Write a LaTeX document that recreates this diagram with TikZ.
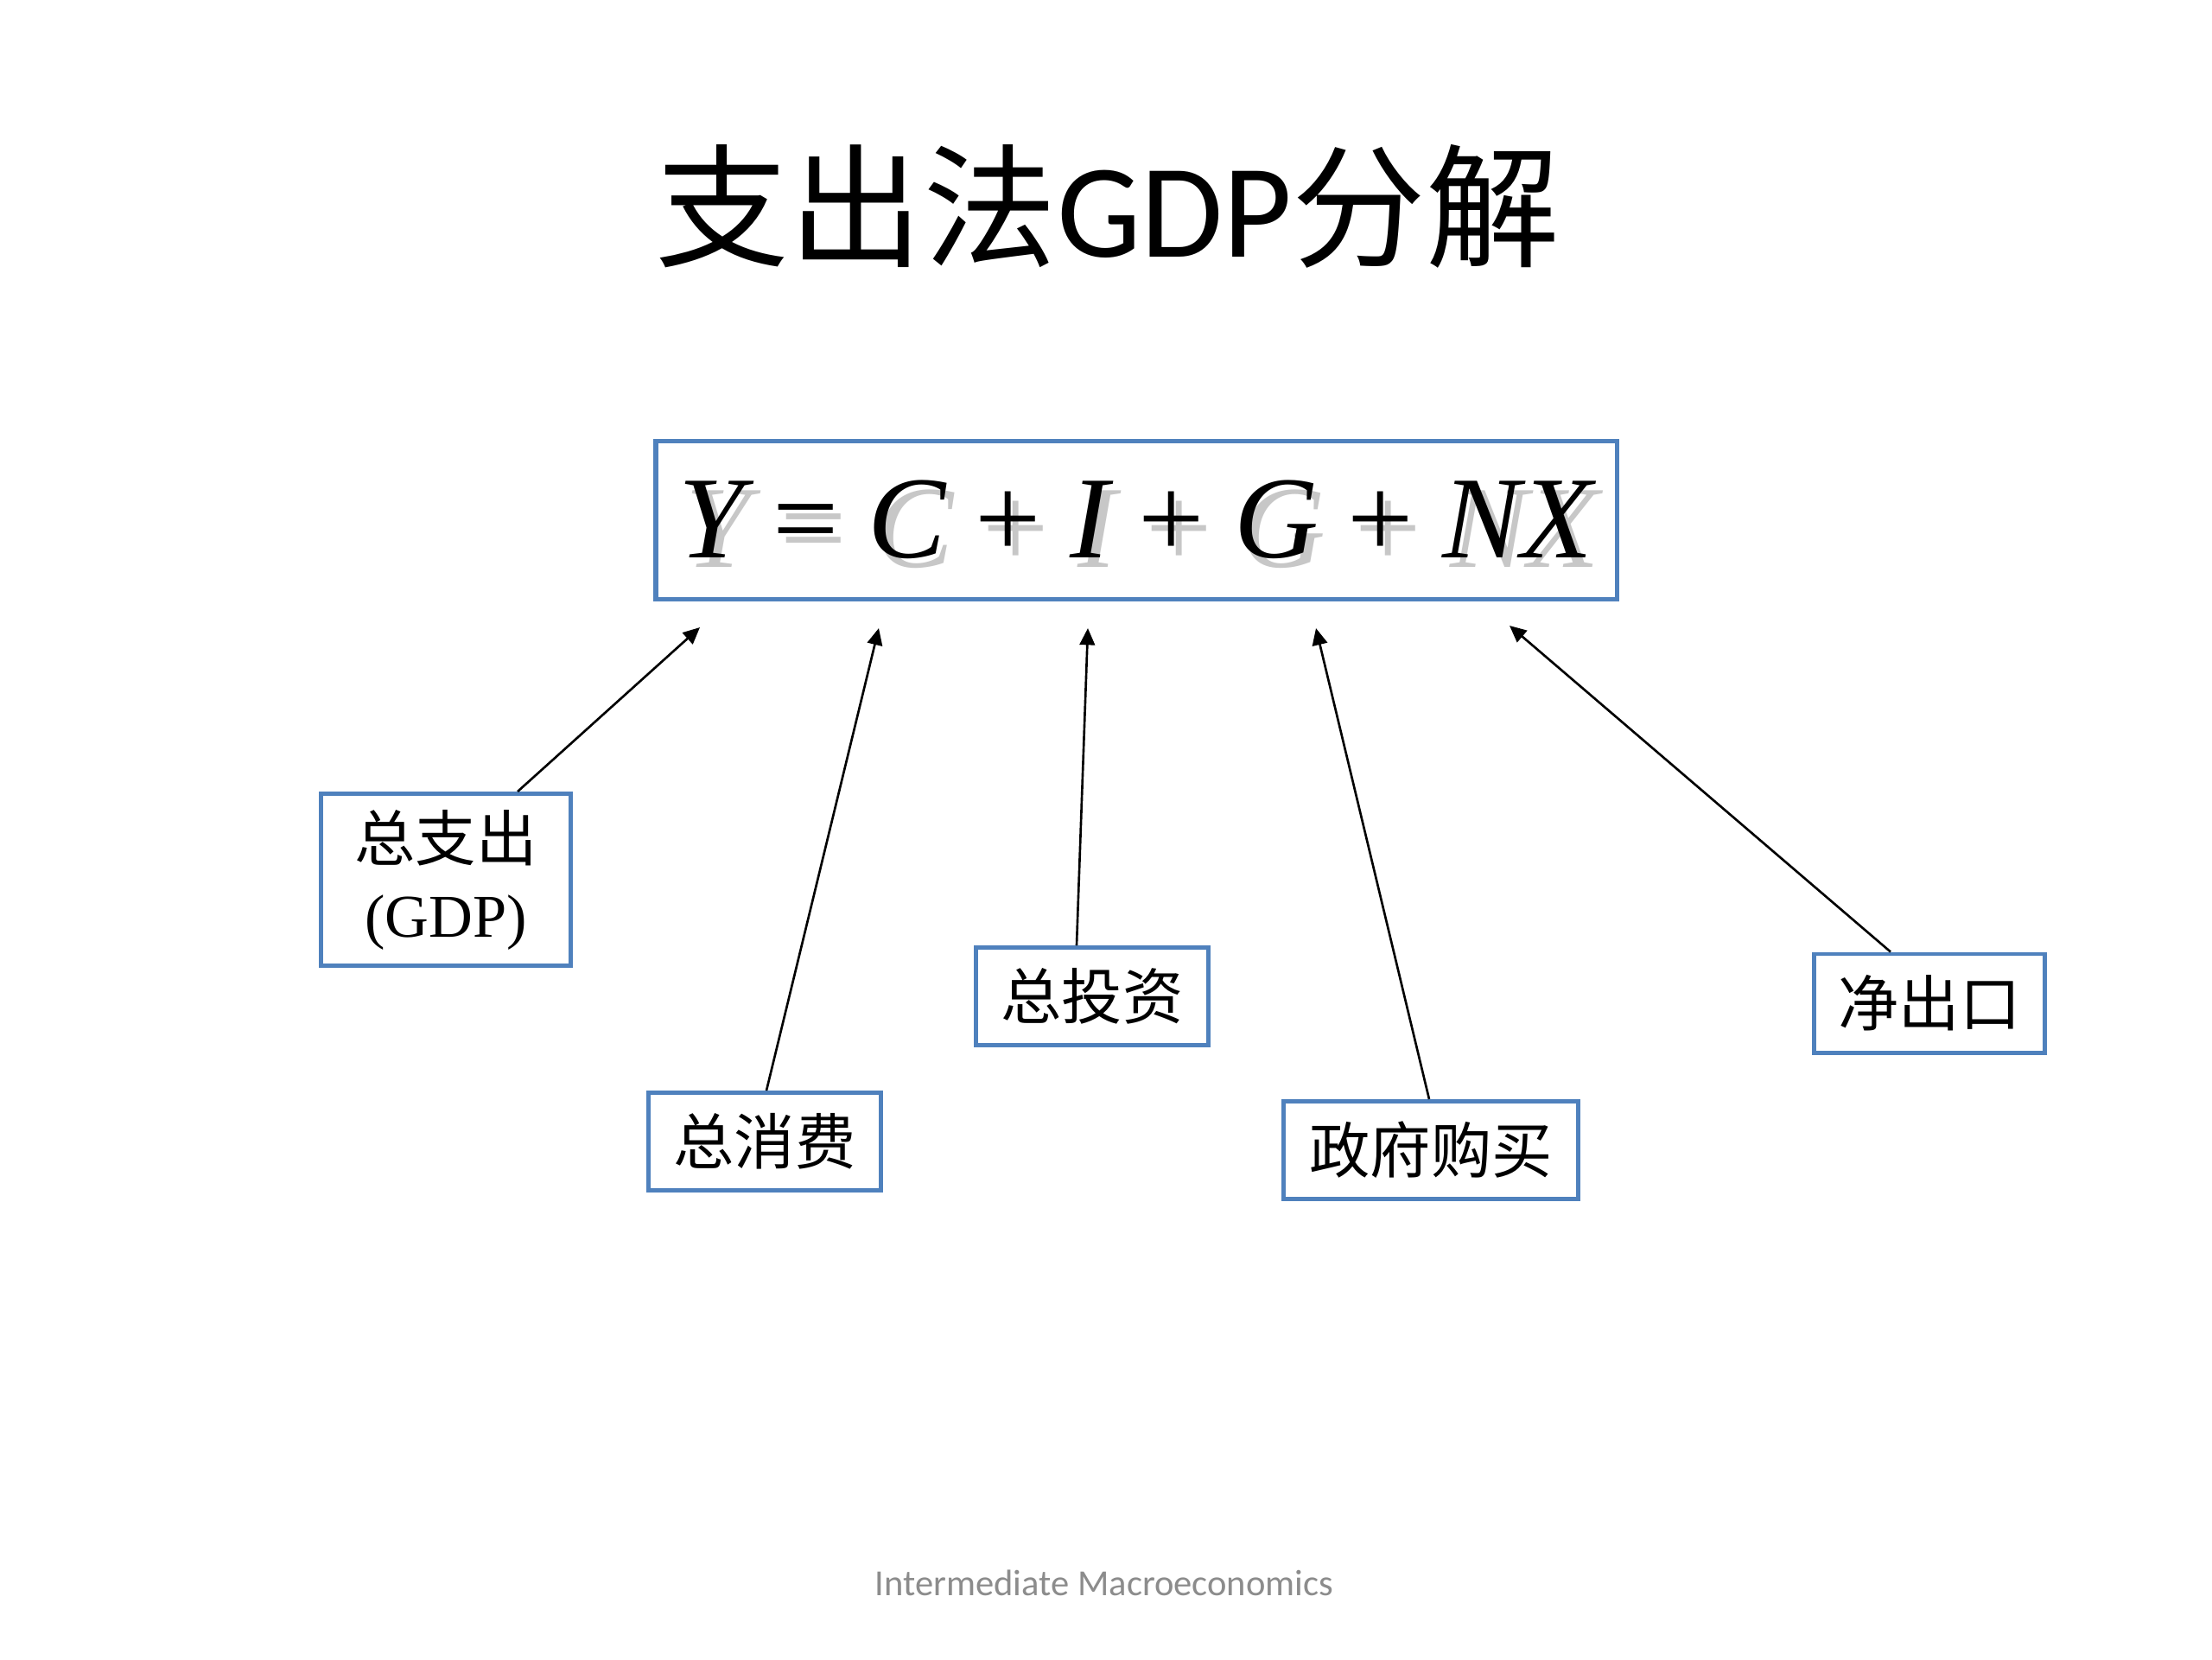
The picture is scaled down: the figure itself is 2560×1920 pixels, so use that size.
\documentclass[tikz,border=0pt]{standalone}
\usepackage{fontspec}
\usetikzlibrary{arrows.meta}
\newfontfamily\cjk{Noto Sans CJK SC}
\newfontfamily\tnr{Liberation Serif}
\newfontfamily\calfont{Carlito}
\definecolor{boxblue}{HTML}{4F81BD}
\definecolor{footgray}{HTML}{8C8C8C}
\newcommand{\eqtext}{{\itshape Y} = {\itshape C} + {\itshape I} + {\itshape G} + {\itshape NX}}
\newcommand{\eqshadowed}{\makebox[0pt][l]{\hspace{2.5pt}\raisebox{-3pt}{\color{black!22}\eqtext}}\eqtext}
\begin{document}
\begin{tikzpicture}[x=0.01cm,y=-0.01cm,
  lbl/.style={draw=boxblue, line width=1.4pt, fill=white, inner sep=0pt,
    font=\cjk\fontsize{20}{25}\selectfont, align=center},
  arr/.style={-{Triangle[length=5.5pt,width=5pt]}, line width=0.75pt},
  eqfont/.style={font=\tnr\fontsize{38.5}{44}\selectfont}]
\path[use as bounding box, fill=white] (0,0) rectangle (2560,1920);
% title
\node (title) at (1282,239) {\fontsize{44}{50}\selectfont{\cjk 支出法}{\calfont GDP}{\cjk 分解}};
% equation box
\node[draw=boxblue, line width=1.6pt, minimum width=11.12cm, minimum height=1.83cm, inner sep=0pt] (eq) at (1315,602) {};
\node[eqfont] (eqt) at (1314,607) {\eqshadowed};
% label boxes
\node[lbl, minimum width=2.88cm, minimum height=1.99cm] (gdp) at (516,1018) {总支出\\{\tnr (GDP)}};
\node[lbl, minimum width=2.68cm, minimum height=1.13cm] (cons) at (885,1321) {总消费};
\node[lbl, minimum width=2.68cm, minimum height=1.13cm] (inv) at (1264,1153) {总投资};
\node[lbl, minimum width=3.41cm, minimum height=1.13cm] (gov) at (1656,1331) {政府购买};
\node[lbl, minimum width=2.67cm, minimum height=1.14cm] (nx) at (2233,1161) {净出口};
% arrow heads
\coordinate (hY) at (810,726);
\coordinate (hC) at (1017,727);
\coordinate (hI) at (1259,727);
\coordinate (hG) at (1523,727);
\coordinate (hNX) at (1747,724);
\draw[arr] ([xshift=0.83cm]gdp.north) -- (hY);
\draw[arr] ([xshift=0.02cm]cons.north) -- (hC);
\draw[arr] ([xshift=-0.18cm]inv.north) -- (hI);
\draw[arr] ([xshift=-0.02cm]gov.north) -- (hG);
\draw[arr] ([xshift=-0.45cm]nx.north) -- (hNX);
% footer
\node[text=footgray, font=\calfont\fontsize{12.1}{14}\selectfont] (foot) at (1278,1832) {Intermediate Macroeconomics};
\end{tikzpicture}
\end{document}
